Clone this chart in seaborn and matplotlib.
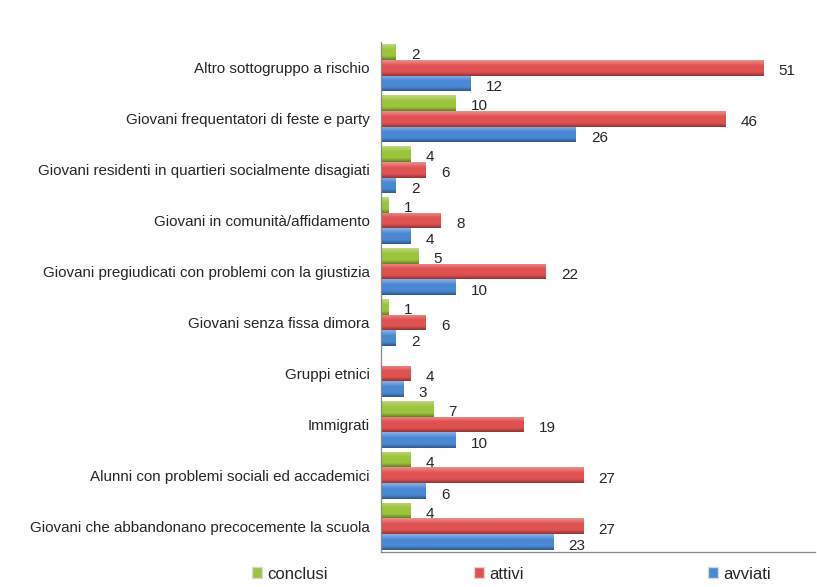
import matplotlib
matplotlib.use("Agg")
import matplotlib.pyplot as plt
import matplotlib.colors as mcolors
import seaborn as sns
import pandas as pd
import numpy as np
from matplotlib.patches import Patch

categorie = [
    "Altro sottogruppo a rischio",
    "Giovani frequentatori di feste e party",
    "Giovani residenti in quartieri socialmente disagiati",
    "Giovani in comunità/affidamento",
    "Giovani pregiudicati con problemi con la giustizia",
    "Giovani senza fissa dimora",
    "Gruppi etnici",
    "Immigrati",
    "Alunni con problemi sociali ed accademici",
    "Giovani che abbandonano precocemente la scuola",
]
conclusi = [2, 10, 4, 1, 5, 1, 0, 7, 4, 4]
attivi = [51, 46, 6, 8, 22, 6, 4, 19, 27, 27]
avviati = [12, 26, 2, 4, 10, 2, 3, 10, 6, 23]
serie = ["conclusi", "attivi", "avviati"]
colori = ["#9cc43c", "#e05252", "#4a88d4"]

df = pd.DataFrame({"categoria": categorie, "conclusi": conclusi,
                   "attivi": attivi, "avviati": avviati})
df = df.melt(id_vars="categoria", var_name="stato", value_name="n")

sns.set_style("white")
plt.rcParams["font.family"] = ["Liberation Sans", "DejaVu Sans"]

fig = plt.figure(figsize=(8.17, 5.87), dpi=100)
ax = fig.add_axes([0.466, 0.06, 0.532, 0.868])
sns.barplot(data=df, y="categoria", x="n", hue="stato", hue_order=serie,
            order=categorie, palette=colori, saturation=1, orient="h",
            width=0.93, ax=ax, legend=False)

ax.set_xlim(0, 58)
ylim = ax.get_ylim()


def gradiente(col):
    base = np.array(mcolors.to_rgb(col))
    chiaro = base + (1 - base) * 0.35
    scuro = base * 0.65
    t = np.linspace(0, 1, 40)
    rows = []
    for v in t:
        if v < 0.35:
            c = chiaro + (base - chiaro) * (v / 0.35)
        elif v < 0.75:
            c = base
        else:
            c = base + (scuro - base) * ((v - 0.75) / 0.25)
        rows.append(c)
    return np.array(rows).reshape(-1, 1, 3)


for cont, col in zip(ax.containers, colori):
    g = gradiente(col)
    for bar, v in zip(cont, cont.datavalues):
        x, y = bar.get_x(), bar.get_y()
        w, h = bar.get_width(), bar.get_height()
        bar.set_edgecolor("none")
        if w > 0:
            im = ax.imshow(g, extent=[x, x + w, y + h, y], origin="upper",
                           aspect="auto", zorder=bar.get_zorder() + 0.1)
            im.set_clip_path(bar)
            ax.annotate(str(int(v)), (x + w, y + h / 2), xytext=(11, -2.5),
                        textcoords="offset points", ha="left", va="center",
                        fontsize=11)

ax.set_xlim(0, 58)
ax.set_ylim(ylim)
ax.set_xlabel("")
ax.set_ylabel("")
ax.set_xticks([])
ax.tick_params(axis="y", length=0, labelsize=10.9, pad=8)
ax.set_yticks(np.arange(-0.5, len(categorie), 1), minor=True)
ax.tick_params(axis="y", which="minor", length=5, color="#888888", direction="out")
for s in ["top", "right"]:
    ax.spines[s].set_visible(False)
for s in ["left", "bottom"]:
    ax.spines[s].set_color("#888888")
    ax.spines[s].set_linewidth(0.9)

# legenda a colonne di larghezza fissa, come nell'originale
pos_x = [0.309, 0.580, 0.867]
for s, c, px in zip(serie, colori, pos_x):
    fig.legend(handles=[Patch(facecolor=c, edgecolor="#d8d8d8", label=s)],
               loc="center left", bbox_to_anchor=(px, 0.022), frameon=False,
               fontsize=12, handlelength=0.6, handleheight=0.6,
               handletextpad=0.3, borderpad=0, borderaxespad=0)

fig.savefig("out.png", dpi=100)
